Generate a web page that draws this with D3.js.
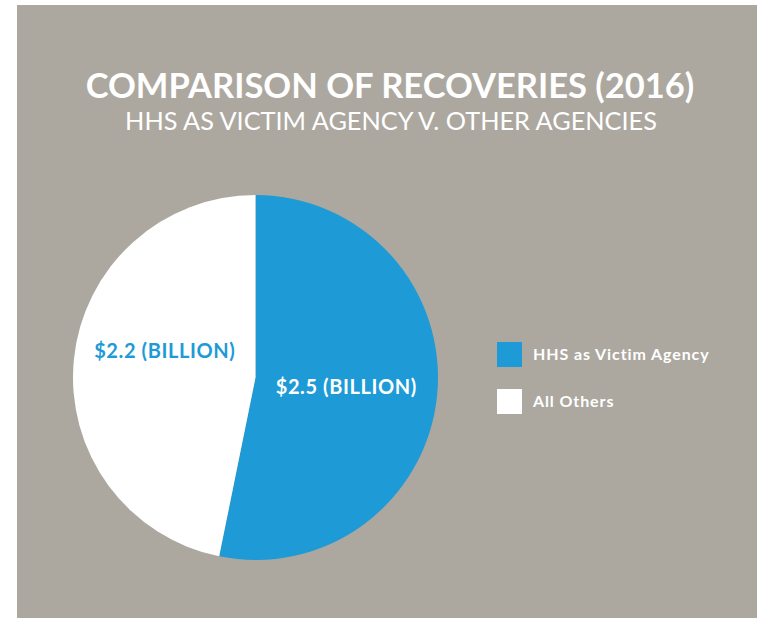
<!DOCTYPE html>
<html>
<head>
<meta charset="utf-8">
<script src="https://cdn.jsdelivr.net/npm/d3@7"></script>
<style>
  body { margin: 0; background: #fff; }
  text { font-family: Lato, 'Open Sans', sans-serif; }
</style>
</head>
<body>
<div id="visualization"></div>
<script>
var categories = ['HHS as Victim Agency', 'All Others']
var values = [2.5, 2.2]
var sliceLabels = ['$2.2 (BILLION)', '$2.5 (BILLION)']
var colors = ['#1e9ad6', '#ffffff']

var width = 757
var height = 618

var svg = d3.select('#visualization')
  .append('svg')
  .attr('width', width)
  .attr('height', height)

svg.append('rect')
  .attr('x', 17)
  .attr('y', 5)
  .attr('width', width - 17)
  .attr('height', height - 5)
  .attr('fill', '#aca8a0')

svg.append('text')
  .attr('x', 390)
  .attr('y', 98)
  .attr('text-anchor', 'middle')
  .attr('fill', '#fff')
  .style('font-size', '34.5px')
  .style('font-weight', 'bold')
  .text('COMPARISON OF RECOVERIES (2016)')

svg.append('text')
  .attr('x', 391)
  .attr('y', 130)
  .attr('text-anchor', 'middle')
  .attr('fill', '#fff')
  .style('font-size', '25.3px')
  .text('HHS AS VICTIM AGENCY V. OTHER AGENCIES')

var radius = 182.5
var g = svg.append('g')
  .attr('transform', 'translate(255.5,377.5)')

var pie = d3.pie()
  .sort(null)
  .value(function (d) { return d })

var arc = d3.arc()
  .innerRadius(0)
  .outerRadius(radius)

var labelArc = d3.arc()
  .innerRadius(radius * 0.5)
  .outerRadius(radius * 0.5)

var arcs = pie(values)

g.selectAll('path')
  .data(arcs)
  .enter()
  .append('path')
  .attr('d', arc)
  .attr('fill', function (d, i) { return colors[i] })

// label text sits in the other slice's colour
var labelOffset = [[0, 0], [0, -17]]
g.selectAll('.lbl')
  .data(arcs)
  .enter()
  .append('text')
  .attr('class', 'lbl')
  .attr('transform', function (d, i) {
    var c = labelArc.centroid(d)
    return 'translate(' + (c[0] + labelOffset[i][0]) + ',' + (c[1] + labelOffset[i][1]) + ')'
  })
  .attr('text-anchor', 'middle')
  .attr('dy', '.35em')
  .attr('fill', function (d, i) { return colors[1 - i] })
  .style('font-size', '20px')
  .style('font-weight', 'bold')
  .style('letter-spacing', '0.6px')
  .text(function (d, i) { return i === 0 ? sliceLabels[1] : sliceLabels[0] })

var legend = svg.selectAll('.legend')
  .data(categories)
  .enter()
  .append('g')
  .attr('class', 'legend')
  .attr('transform', function (d, i) {
    return 'translate(497,' + (342 + i * 47) + ')'
  })

legend.append('rect')
  .attr('width', 25)
  .attr('height', 25)
  .attr('fill', function (d, i) { return colors[i] })

legend.append('text')
  .attr('x', 36)
  .attr('y', 12.5)
  .attr('dy', '.35em')
  .attr('fill', '#fff')
  .style('font-size', '16px')
  .style('font-weight', 'bold')
  .style('letter-spacing', '0.9px')
  .text(function (d) { return d })
</script>
</body>
</html>
